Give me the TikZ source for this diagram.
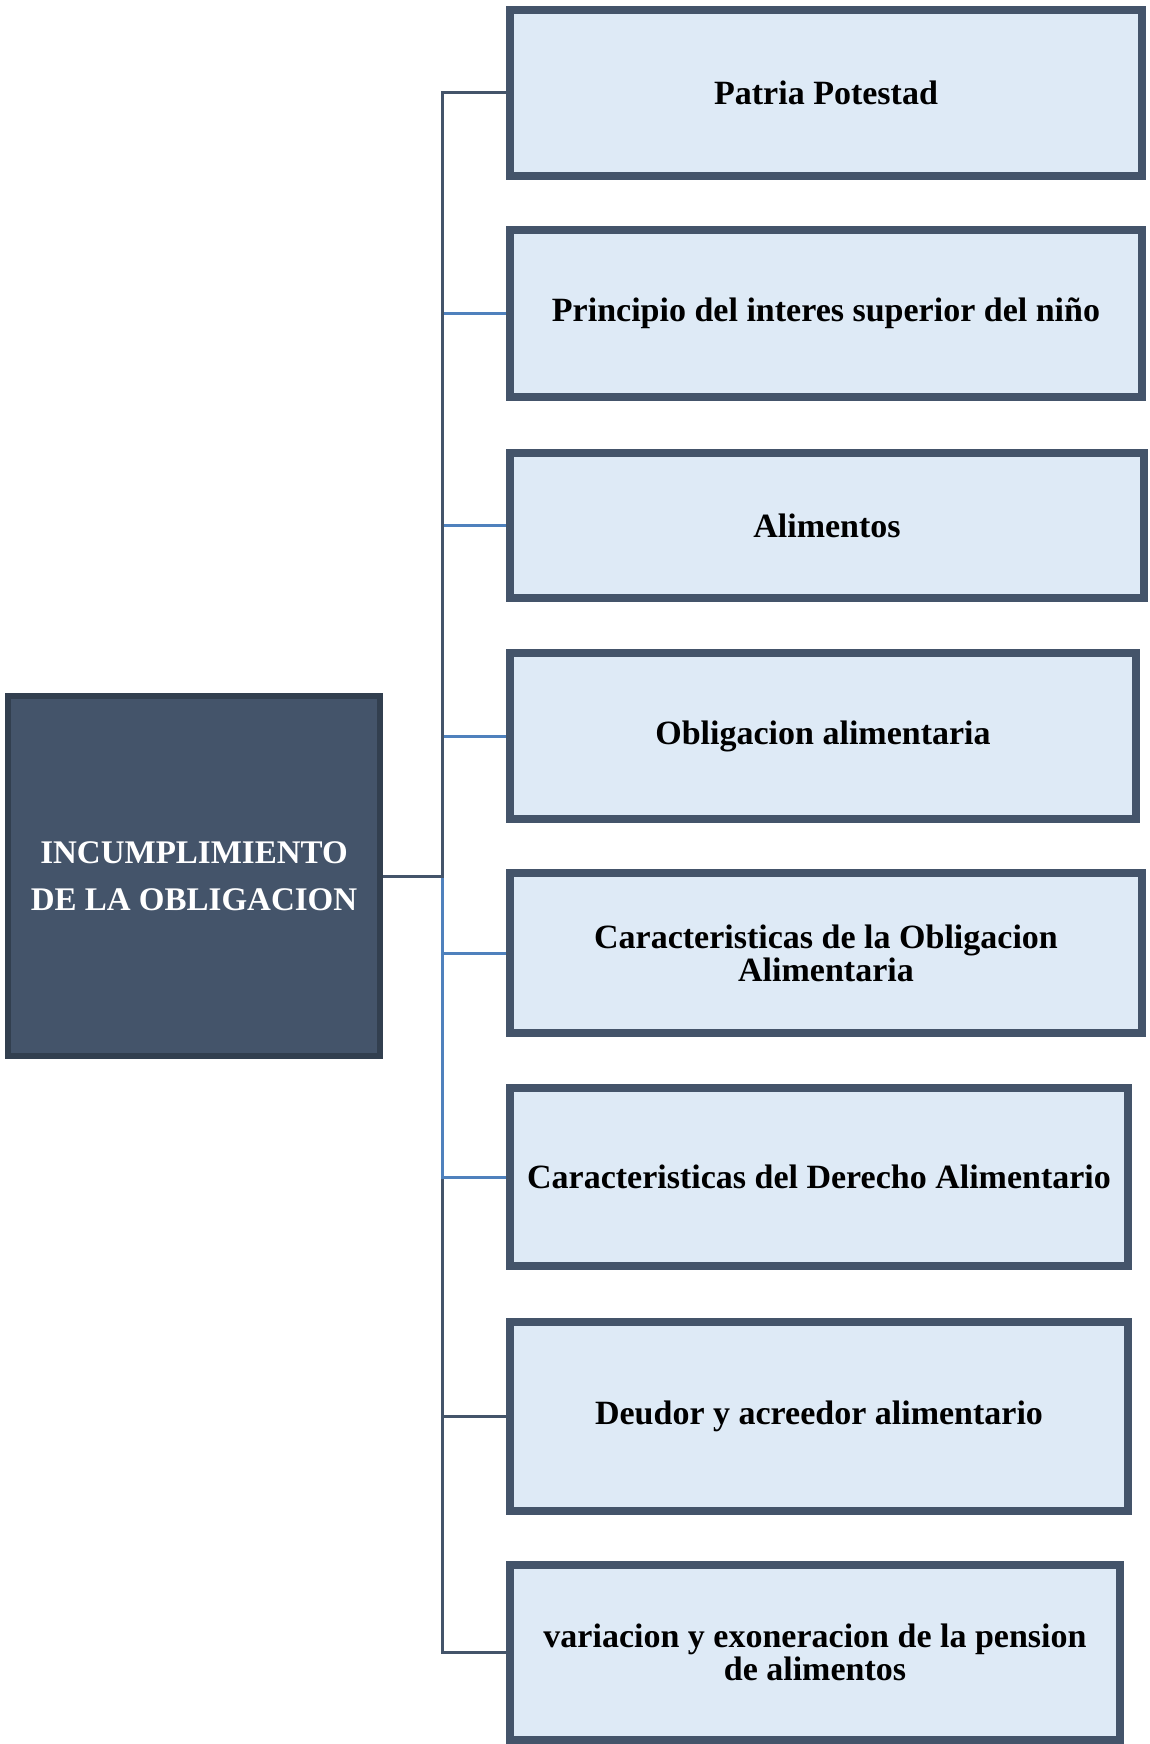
\documentclass[tikz,border=0pt]{standalone}
\usepackage{fontspec}
\setmainfont{Liberation Serif}
\definecolor{boxfill}{HTML}{DEEAF6}
\definecolor{boxline}{HTML}{44546A}
\definecolor{mainfill}{HTML}{44546A}
\definecolor{mainline}{HTML}{323F4F}
\definecolor{linkblue}{HTML}{4F81BD}
\definecolor{linkdark}{HTML}{44546A}
\begin{document}
\begin{tikzpicture}[x=1pt,y=-1pt,
  child/.style={draw=boxline, fill=boxfill, line width=8pt, rectangle, inner sep=0pt,
    align=center, font=\fontsize{34}{33}\selectfont\bfseries, text=black},
  mainbox/.style={draw=mainline, fill=mainfill, line width=6pt, rectangle, inner sep=0pt,
    align=center, font=\fontsize{33}{47}\selectfont\bfseries, text=white,
    minimum width=372pt, minimum height=360pt},
  bluelink/.style={draw=linkblue, line width=3pt},
  darklink/.style={draw=linkdark, line width=3pt}]
\useasboundingbox (0,0) rectangle (1149,1744);
\fill[white] (0,0) rectangle (1149,1744);

\node[mainbox] (m) at (194,876) {INCUMPLIMIENTO\\DE LA OBLIGACION};

\node[child, minimum width=632pt, minimum height=166pt] (c1) at (826,93) {Patria Potestad};
\node[child, minimum width=632pt, minimum height=167pt] (c2) at (826,313.5) {Principio del interes superior del niño};
\node[child, minimum width=634pt, minimum height=145pt] (c3) at (827,525.5) {Alimentos};
\node[child, minimum width=626pt, minimum height=166pt] (c4) at (823,736) {Obligacion alimentaria};
\node[child, minimum width=632pt, minimum height=160pt] (c5) at (826,953) {Caracteristicas de la Obligacion\\Alimentaria};
\node[child, minimum width=618pt, minimum height=178pt] (c6) at (819,1177) {Caracteristicas del Derecho Alimentario};
\node[child, minimum width=618pt, minimum height=189pt] (c7) at (819,1416.5) {Deudor y acreedor alimentario};
\node[child, minimum width=610pt, minimum height=175pt] (c8) at (815,1652.5) {variacion y exoneracion de la pension\\de alimentos};

\coordinate (j) at (442,876);

\draw[darklink] (j) |- (c7.west);
\draw[darklink] (j) |- (c8.west);
\draw[bluelink] (j) |- (c2.west);
\draw[bluelink] (j) |- (c3.west);
\draw[bluelink] (j) |- (c4.west);
\draw[bluelink] (j) |- (c5.west);
\draw[bluelink] (j) |- (c6.west);
\draw[darklink] (m.east) -- (j) |- (c1.west);
\end{tikzpicture}
\end{document}
